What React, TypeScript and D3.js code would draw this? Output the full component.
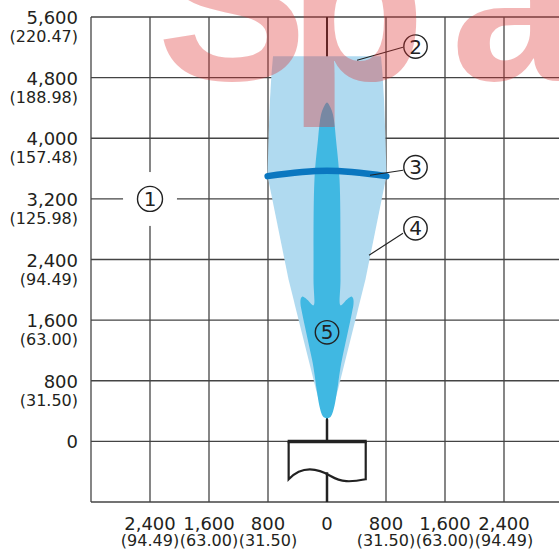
import React from 'react';
import * as d3 from 'd3';

const W = 559;
const H = 553;

const xGrid = [-3200, -2400, -1600, -800, 0, 800, 1600, 2400, 3200];
const yGrid = [-800, 0, 800, 1600, 2400, 3200, 4000, 4800, 5600];
const xTickVals = [-2400, -1600, -800, 0, 800, 1600, 2400];
const xTickMain = ['2,400', '1,600', '800', '0', '800', '1,600', '2,400'];
const xTickSub = ['(94.49)', '(63.00)', '(31.50)', '', '(31.50)', '(63.00)', '(94.49)'];
const yTickVals = [0, 800, 1600, 2400, 3200, 4000, 4800, 5600];
const yTickMain = ['0', '800', '1,600', '2,400', '3,200', '4,000', '4,800', '5,600'];
const yTickSub = ['', '(31.50)', '(63.00)', '(94.49)', '(125.98)', '(157.48)', '(188.98)', '(220.47)'];

// light beam (4): distance vs half width (mm)
const beamDist = [5081, 4843, 4513, 3985, 3510, 2138, 1214, 686, 317];
const beamHalf = [732, 753, 773, 793, 807, 522, 285, 149, 47];
// arrow (5): outline, distance vs half width (mm)
const arrowDist = [4473, 4407, 4315, 4183, 3985, 3457, 2138, 1795, 1847, 1894, 1913, 1887, 1808, 1702, 1082, 317];
const arrowHalf = [0, 47, 81, 102, 122, 170, 183, 183, 244, 298, 332, 355, 359, 339, 203, 41];
// band (3)
const bandX = [-805, 0, 805];
const bandDist = [3500, 3570, 3500];

// callouts
const calloutNum = ['1', '2', '3', '4', '5'];
const calloutX = [-2400, 1200, 1200, 1200, 0];
const calloutY = [3200, 5210, 3617, 2812, 1439];
const leaderFromX = [null, 407, 583, 570, null];
const leaderFromY = [null, 5029, 3511, 2455, null];
const leaderToX = [null, 1030, 1030, 1030, null];
const leaderToY = [null, 5200, 3577, 2746, null];

const sensorHalfL = -520;
const sensorHalfR = 525;
const sensorDepth = -500;
const stemTop = 290;

const watermarkLetters = ['S', 'p', 'a'];
const watermarkX = [157, 288, 451];

export default function App() {
  const x = d3.scaleLinear().domain([-3200, 3200]).range([91, 563]);
  const y = d3.scaleLinear().domain([-800, 5600]).range([502, 17]);

  const idx = beamDist.map((_, i) => i);
  const beamPath = d3
    .area<number>()
    .y((i) => y(beamDist[i]))
    .x0((i) => x(-beamHalf[i]))
    .x1((i) => x(beamHalf[i]))
    .curve(d3.curveLinear)(idx) as string;

  const left = arrowDist.map((d, i) => [x(-arrowHalf[i]), y(d)] as [number, number]);
  const right = arrowDist
    .map((d, i) => [x(arrowHalf[i]), y(d)] as [number, number])
    .slice(1)
    .reverse();
  const arrowPath = d3.line().curve(d3.curveCatmullRomClosed.alpha(0.5))([...left, ...right]) as string;

  const bandPath = d3
    .line<number>()
    .x((i) => x(bandX[i]))
    .y((i) => y(bandDist[i]))
    .curve(d3.curveNatural)([0, 1, 2]) as string;

  const sx0 = x(sensorHalfL);
  const sx1 = x(sensorHalfR);
  const sy0 = y(0);
  const sy1 = y(sensorDepth);
  const sw = sx1 - sx0;
  const sensorBody = `M${sx0},${sy0} L${sx0},${sy1} C${sx0 + sw * 0.2},${sy1 - 16} ${sx0 + sw * 0.42},${sy1 - 9} ${sx0 + sw * 0.55},${sy1 - 3} S${sx0 + sw * 0.8},${sy1 + 3} ${sx1},${sy1} L${sx1},${sy0}`;

  const font = 'DejaVu Sans, sans-serif';
  const textColor = '#231f20';
  const gridColor = '#444';

  return (
    <svg width={W} height={H} style={{ position: 'absolute', left: 0, top: 0, background: '#fff' }}>
      <rect x={0} y={0} width={W} height={H} fill="#fff" />
      {/* grid */}
      {yGrid.map((v) => (
        <line key={'h' + v} x1={x(-3200)} x2={x(3200)} y1={y(v)} y2={y(v)} stroke={gridColor} strokeWidth={1.3} />
      ))}
      {xGrid.map((v) => (
        <line
          key={'v' + v}
          x1={x(v)}
          x2={x(v)}
          y1={y(-800)}
          y2={y(5600)}
          stroke={v === 0 ? '#222' : gridColor}
          strokeWidth={v === 0 ? 2 : 1.3}
        />
      ))}
      {/* y tick labels */}
      {yTickVals.map((v, i) => (
        <g key={'yt' + v} fill={textColor} fontFamily={font} textAnchor="end">
          <text x={78} y={y(v) + 7} fontSize={18}>
            {yTickMain[i]}
          </text>
          {yTickSub[i] && (
            <text x={78} y={y(v) + 25} fontSize={16}>
              {yTickSub[i]}
            </text>
          )}
        </g>
      ))}
      {/* x tick labels */}
      {xTickVals.map((v, i) => (
        <g key={'xt' + i} fill={textColor} fontFamily={font} textAnchor="middle">
          <text x={x(v)} y={530} fontSize={18}>
            {xTickMain[i]}
          </text>
          {xTickSub[i] && (
            <text x={x(v)} y={546} fontSize={16}>
              {xTickSub[i]}
            </text>
          )}
        </g>
      ))}
      {/* beam */}
      <path d={beamPath} fill="#b0daf0" />
      <path d={arrowPath} fill="#40b8e2" />
      <path d={bandPath} fill="none" stroke="#0a77c0" strokeWidth={6.5} strokeLinecap="round" />
      {/* sensor */}
      <line x1={x(0)} x2={x(0)} y1={y(stemTop)} y2={y(0)} stroke="#222" strokeWidth={2.5} />
      <path d={sensorBody} fill="#fff" stroke="#222" strokeWidth={2.2} />
      <line x1={x(0)} x2={x(0)} y1={sy1 - 7} y2={y(-800)} stroke="#222" strokeWidth={2.5} />
      <line x1={sx0 - 1} x2={sx1 + 1} y1={sy0} y2={sy0} stroke="#222" strokeWidth={3.5} />
      {/* callouts */}
      {calloutNum.map((n, i) => (
        <g key={'c' + n}>
          {i === 0 && <circle cx={x(calloutX[i])} cy={y(calloutY[i])} r={27} fill="#fff" />}
          {leaderFromX[i] !== null && (
            <line
              x1={x(leaderFromX[i] as number)}
              y1={y(leaderFromY[i] as number)}
              x2={x(leaderToX[i] as number)}
              y2={y(leaderToY[i] as number)}
              stroke="#222"
              strokeWidth={1.1}
            />
          )}
          <circle
            cx={x(calloutX[i])}
            cy={y(calloutY[i])}
            r={i === 0 ? 12.5 : 11.7}
            fill={i === 4 ? 'none' : '#fff'}
            stroke="#222"
            strokeWidth={1.4}
          />
          <text
            x={x(calloutX[i])}
            y={y(calloutY[i]) + 7}
            fontSize={20}
            fontFamily={font}
            textAnchor="middle"
            fill="#222"
          >
            {n}
          </text>
        </g>
      ))}
      {/* watermark */}
      <text
        y={80}
        fontSize={225}
        fontFamily="Liberation Sans, Arial, sans-serif"
        fontWeight="bold"
        fill="#dd3030"
        opacity={0.35}
      >
        {watermarkLetters.map((ch, i) => (
          <tspan key={ch} x={watermarkX[i]}>
            {ch}
          </tspan>
        ))}
      </text>
    </svg>
  );
}
